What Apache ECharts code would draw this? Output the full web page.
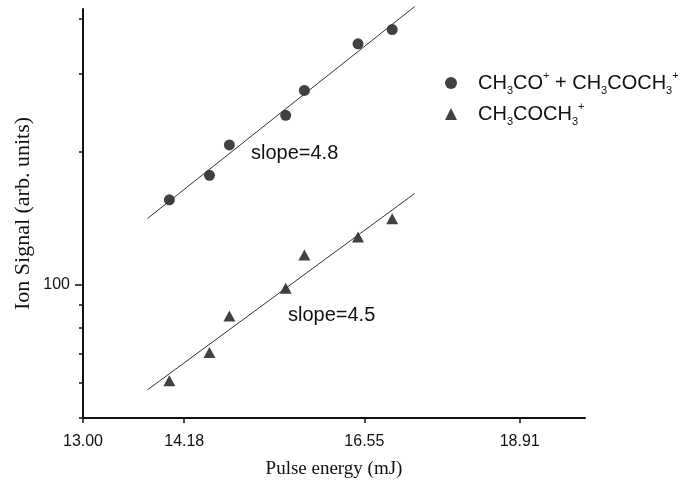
<!DOCTYPE html>
<html lang="en">
<head>
    <meta charset="UTF-8">
    <title>Ion signal vs pulse energy</title>
    <script src="https://cdn.jsdelivr.net/npm/echarts@6/dist/echarts.min.js"></script>
    <style>
        html, body { margin: 0; padding: 0; background: #fff; }
        #main { width: 691px; height: 484px; }
    </style>
</head>
<body>
<div id="main"></div>
<script>
    // pulse energy (mJ) of the measured points
    const energy = [14.00, 14.49, 14.74, 15.47, 15.72, 16.46, 16.95];
    // CH3CO+ + CH3COCH3+
    const sumSignal = [155.6, 176.8, 207.1, 241.5, 274.9, 350.4, 377.4];
    // CH3COCH3+
    const parentSignal = [60.7, 70.3, 85.0, 98.2, 116.7, 128.2, 141.0];

    // end points of the fitted lines
    const fitEnergy = [13.74, 17.28];
    const fitSum = [141.2, 425.3];
    const fitParent = [57.9, 160.8];

    // axis ticks
    const xTicks = [13.00, 14.18, 16.55, 18.91];
    const yTicks = [50, 60, 70, 80, 90, 100, 200, 300, 400];
    const yLabels = [100];

    const pairs = (xs, ys) => xs.map((x, i) => [x, ys[i]]);

    const ink = '#111';
    const sans = 'Liberation Sans';
    const serif = 'Liberation Serif';

    const rich = {
        gap: {width: 16},
        m: {fontFamily: sans, fontSize: 20, color: ink, lineHeight: 26},
        sb: {fontFamily: sans, fontSize: 11, color: ink, verticalAlign: 'bottom', lineHeight: 11},
        sp: {fontFamily: sans, fontSize: 11, color: ink, verticalAlign: 'top', lineHeight: 11}
    };
    const legendText = {
        'sum': '{gap|}{m|CH}{sb|3}{m|CO}{sp|+}{m| + CH}{sb|3}{m|COCH}{sb|3}{sp|+}',
        'parent': '{gap|}{m|CH}{sb|3}{m|COCH}{sb|3}{sp|+}'
    };

    const chart = echarts.init(document.getElementById('main'));
    chart.setOption({
        animation: false,
        backgroundColor: '#fff',
        grid: {left: 83, right: 106, top: 9, bottom: 65, containLabel: false},
        legend: {
            orient: 'vertical',
            left: 440,
            top: 65,
            itemWidth: 12,
            itemHeight: 12,
            itemGap: 5,
            data: [
                {name: 'sum', icon: 'circle'},
                {name: 'parent', icon: 'triangle'}
            ],
            formatter: name => legendText[name],
            textStyle: {rich: rich}
        },
        xAxis: {
            type: 'log',
            logBase: Math.E,
            min: 13,
            max: 20,
            name: 'Pulse energy (mJ)',
            nameLocation: 'middle',
            nameGap: 42,
            nameTextStyle: {fontFamily: serif, fontSize: 19, color: ink},
            axisLine: {lineStyle: {color: ink, width: 2}},
            axisTick: {length: 5, lineStyle: {color: ink, width: 1.5}, customValues: xTicks},
            axisLabel: {
                customValues: xTicks,
                margin: 16,
                fontFamily: sans, fontSize: 16, color: ink,
                formatter: v => Number(v).toFixed(2)
            },
            splitLine: {show: false}
        },
        yAxis: [{
            type: 'log',
            logBase: 10,
            min: 50,
            max: 420,
            position: 'left',
            name: 'Ion Signal (arb. units)',
            nameLocation: 'middle',
            nameGap: 49,
            nameTextStyle: {fontFamily: serif, fontSize: 22, color: ink},
            axisLine: {lineStyle: {color: ink, width: 2}},
            axisTick: {length: 4, lineStyle: {color: ink, width: 1.5}, customValues: yTicks},
            axisLabel: {show: false},
            splitLine: {show: false}
        }, {
            type: 'log',
            logBase: 10,
            min: 50,
            max: 420,
            position: 'left',
            axisLine: {show: false},
            axisTick: {length: 8, lineStyle: {color: ink, width: 1.5}, customValues: yLabels},
            axisLabel: {
                customValues: yLabels,
                margin: 13,
                fontFamily: sans, fontSize: 16, color: ink
            },
            splitLine: {show: false}
        }],
        graphic: [
            {type: 'text', x: 251, y: 153, style: {text: 'slope=4.8', font: '20px "Liberation Sans"', fill: ink, verticalAlign: 'middle'}},
            {type: 'text', x: 288, y: 315, style: {text: 'slope=4.5', font: '20px "Liberation Sans"', fill: ink, verticalAlign: 'middle'}}
        ],
        series: [
            {
                name: 'sum', type: 'scatter', symbol: 'circle', symbolSize: 11,
                itemStyle: {color: ink}, data: pairs(energy, sumSignal)
            },
            {
                name: 'parent', type: 'scatter', symbol: 'triangle', symbolSize: [12, 11],
                itemStyle: {color: ink}, data: pairs(energy, parentSignal)
            },
            {
                name: 'fit sum', type: 'line', symbol: 'none', clip: false,
                lineStyle: {color: '#333', width: 1}, data: pairs(fitEnergy, fitSum)
            },
            {
                name: 'fit parent', type: 'line', symbol: 'none', clip: false,
                lineStyle: {color: '#333', width: 1}, data: pairs(fitEnergy, fitParent)
            }
        ]
    });
</script>
</body>
</html>
